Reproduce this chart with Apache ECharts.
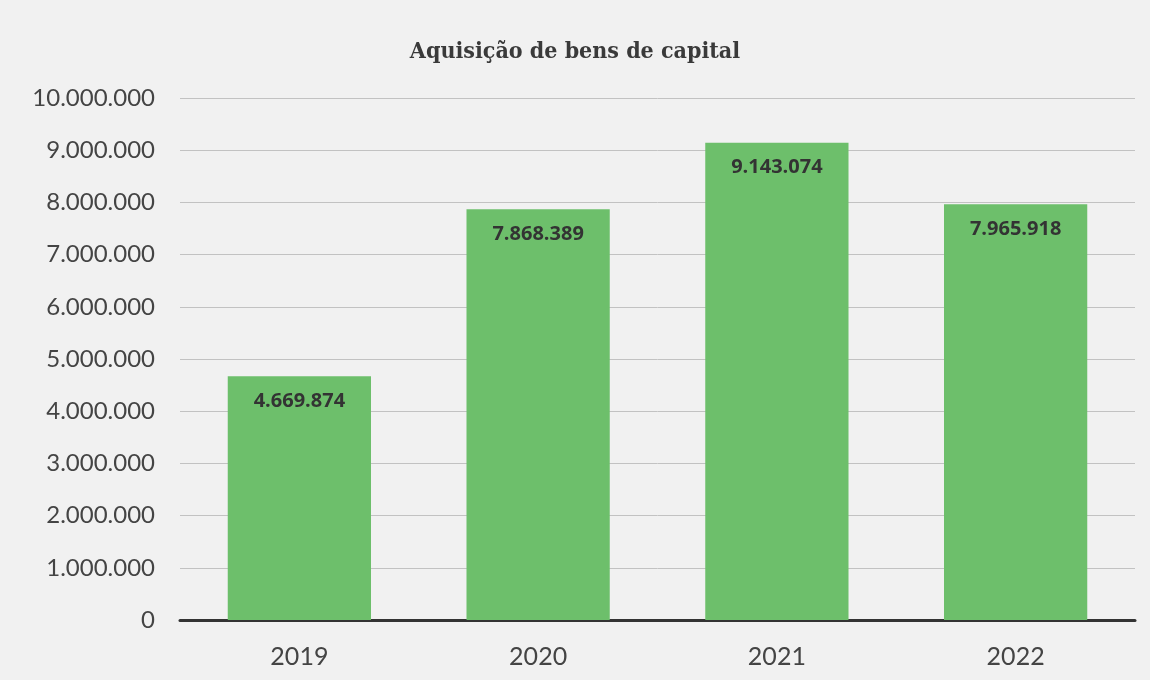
<!DOCTYPE html>
<html>
<head>
<meta charset="utf-8">
<script src="https://cdn.jsdelivr.net/npm/echarts@6/dist/echarts.min.js"></script>
<style>
  html, body { margin: 0; padding: 0; }
  #picture { width: 1150px; height: 680px; }
</style>
</head>
<body>
<div id="picture"></div>
<script>
var years = ['2019', '2020', '2021', '2022'];
var valores = [4669874, 7868389, 9143074, 7965918];

function ptBR(v) {
    return String(v).replace(/\B(?=(\d{3})+(?!\d))/g, '.');
}

var myChart = echarts.init(document.getElementById('picture'));
var option = {
    backgroundColor: '#f1f1f1',
    title: {
        text: 'Aquisição de bens de capital',
        left: 'center',
        top: 36,
        textStyle: {
            fontFamily: 'DejaVu Serif Condensed',
            fontWeight: 'bold',
            fontSize: 23,
            color: '#3a3a3a'
        }
    },
    grid: {
        left: 180,
        right: 15,
        top: 98,
        bottom: 60
    },
    xAxis: {
        type: 'category',
        data: years,
        axisTick: { show: false },
        axisLine: { lineStyle: { color: '#333', width: 3 } },
        axisLabel: {
            margin: 24,
            fontFamily: 'Lato',
            fontSize: 25,
            color: '#444'
        }
    },
    yAxis: {
        type: 'value',
        min: 0,
        max: 10000000,
        interval: 1000000,
        axisLine: { show: false },
        axisTick: { show: false },
        splitLine: { lineStyle: { color: '#c2c2c2', width: 1 } },
        axisLabel: {
            margin: 25,
            fontFamily: 'Lato',
            fontSize: 24,
            color: '#444',
            formatter: ptBR
        }
    },
    series: [
        {
            type: 'bar',
            data: valores,
            barWidth: '60%',
            itemStyle: { color: '#6dbf6b' },
            label: {
                show: true,
                position: 'insideTop',
                distance: 15,
                fontFamily: 'Open Sans',
                fontWeight: 'bold',
                fontSize: 20,
                color: '#333',
                formatter: function (p) { return ptBR(p.value); }
            }
        }
    ]
};
myChart.setOption(option);
</script>
</body>
</html>
